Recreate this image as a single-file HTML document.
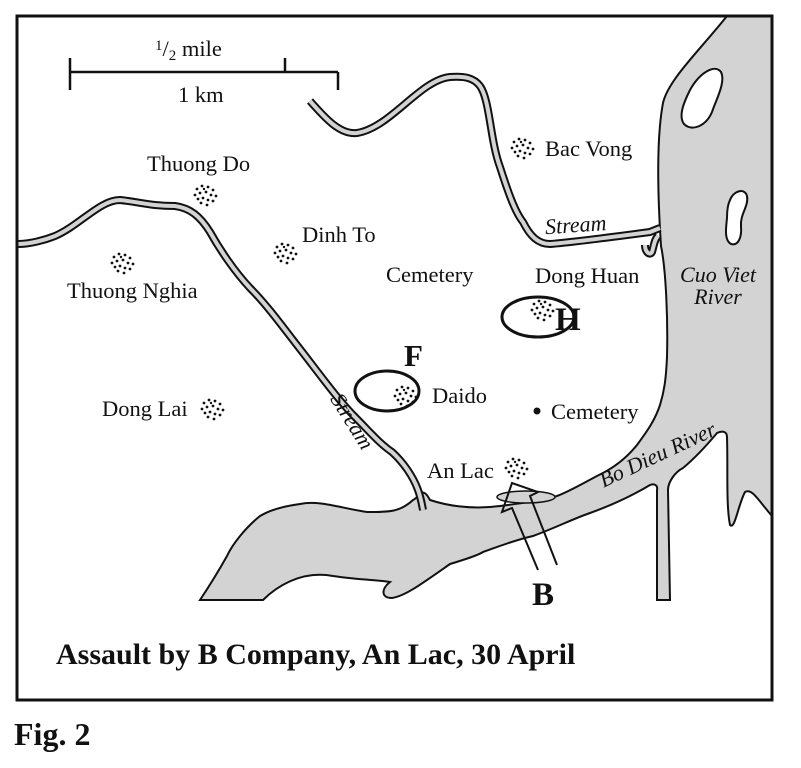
<!DOCTYPE html>
<html><head><meta charset="utf-8"><style>
html,body{margin:0;padding:0;background:#fff}
svg{display:block}
text{font-family:"Liberation Serif",serif;fill:#111}
.l{font-size:22.5px}
.i{font-size:22px;font-style:italic}
.b{font-weight:bold}
</style></head><body>
<svg width="801" height="768" viewBox="0 0 801 768">
<defs>
<g id="dots" fill="#111">
<circle cx="-8" cy="-6" r="1.4"/><circle cx="-3" cy="-9" r="1.4"/><circle cx="3" cy="-8" r="1.4"/><circle cx="8" cy="-5" r="1.4"/>
<circle cx="-10" cy="0" r="1.4"/><circle cx="-5" cy="-2" r="1.4"/><circle cx="1" cy="-3" r="1.4"/><circle cx="6" cy="0" r="1.4"/><circle cx="11" cy="1" r="1.4"/>
<circle cx="-7" cy="4" r="1.4"/><circle cx="-2" cy="3" r="1.4"/><circle cx="3" cy="5" r="1.4"/><circle cx="8" cy="6" r="1.4"/>
<circle cx="-4" cy="8" r="1.4"/><circle cx="2" cy="10" r="1.4"/><circle cx="-1" cy="-6" r="1.2"/>
</g>
</defs>
<path d="M727,16 C700,50 668,80 663,103 C656,140 658,200 661,246 C666,270 668,320 667,357 C666,380 664,392 660,405 C655,420 648,430 637,445 C625,460 610,470 597,476 C580,485 568,492 557,496 C535,502 515,504 500,506 C470,510 445,505 430,500 C422,485 420,497 413,500 C400,512 390,512 367,512 C340,508 320,500 300,504 C285,506 270,510 260,516 C245,528 232,545 227,556 C218,572 208,588 200,600 L263,600 C275,588 300,570 333,576 C360,580 380,580 390,582 C382,588 380,598 392,598 C405,596 420,585 450,564 C470,558 480,554 483,552 C500,546 515,540 533,536 C555,528 575,518 590,513 C615,504 635,494 650,485 C655,483 658,486 657,490 L657,600 L670,600 L668,490 C668,482 675,472 683,468 C695,458 707,445 717,433 C723,430 727,432 727,437 C728,470 726,505 730,525 C735,530 738,505 745,492 C752,488 758,500 772,516 L772,16 Z" fill="#d3d3d3" stroke="#111" stroke-width="2"/>
<path d="M690,90 C700,72 715,64 721,72 C726,82 716,100 712,112 C706,126 692,132 684,124 C678,116 684,102 690,90 Z" fill="#fff" stroke="#111" stroke-width="2"/>
<path d="M730,200 C734,190 745,188 747,196 C749,206 740,214 741,226 C742,238 738,246 731,244 C724,240 726,228 727,218 C727,210 728,204 730,200 Z" fill="#fff" stroke="#111" stroke-width="2"/>
<g fill="none" stroke-linecap="butt" stroke-linejoin="round">
<path id="s1" d="M310,101 C325,118 340,135 357,133 C390,128 420,80 450,77 C465,76 474,78 480,86 C490,100 490,140 500,167 C508,192 515,212 523,222 C530,236 538,244 550,244 C575,242 605,238 650,232 L660,228"/>
<path id="s2" d="M18,244 C30,244 45,240 55,236 C80,225 100,200 120,200 C140,202 150,206 175,206 C190,208 200,216 210,232 C220,250 235,272 250,288 C268,306 285,330 300,349 C318,372 338,400 356,418 C368,430 380,444 392,452 C403,462 413,476 418,490 C421,498 422,505 423,510"/>
<path id="s3" d="M645,245 C645,252 650,256 652,252 C654,246 654,240 658,236"/>
</g>
<use href="#s1" stroke="#111" stroke-width="8" fill="none"/>
<use href="#s1" stroke="#d3d3d3" stroke-width="4" fill="none"/>
<use href="#s2" stroke="#111" stroke-width="8" fill="none"/>
<use href="#s2" stroke="#d3d3d3" stroke-width="4" fill="none"/>
<use href="#s3" stroke="#111" stroke-width="8" fill="none"/>
<use href="#s3" stroke="#d3d3d3" stroke-width="4" fill="none"/>
<rect x="17" y="16" width="755" height="684" fill="none" stroke="#111" stroke-width="3"/>
<g stroke="#111" stroke-width="2.5"><line x1="70" y1="72" x2="338" y2="72"/><line x1="70" y1="58" x2="70" y2="90"/><line x1="285" y1="58" x2="285" y2="72"/><line x1="338" y1="72" x2="338" y2="90"/></g>
<text x="155" y="56" class="l"><tspan font-size="15" dy="-6">1</tspan><tspan dy="6">/</tspan><tspan font-size="15" dy="4">2</tspan><tspan dy="-4"> mile</tspan></text>
<text x="178" y="102" class="l">1 km</text>
<use href="#dots" x="205" y="195"/><use href="#dots" x="285" y="253"/><use href="#dots" x="122" y="263"/>
<use href="#dots" x="212" y="409"/><use href="#dots" x="522" y="148"/><use href="#dots" x="542" y="310"/>
<use href="#dots" x="405" y="396"/><use href="#dots" x="516" y="468"/>
<text x="147" y="171" class="l">Thuong Do</text>
<text x="302" y="242" class="l">Dinh To</text>
<text x="67" y="298" class="l">Thuong Nghia</text>
<text x="386" y="282" class="l">Cemetery</text>
<text x="545" y="156" class="l">Bac Vong</text>
<text x="545" y="232" class="i" transform="rotate(-4 578 226)">Stream</text>
<text x="535" y="283" class="l">Dong Huan</text>
<text x="718" y="282" class="i" text-anchor="middle">Cuo Viet</text>
<text x="718" y="304" class="i" text-anchor="middle">River</text>
<text x="432" y="403" class="l">Daido</text>
<text x="102" y="416" class="l">Dong Lai</text>
<circle cx="537" cy="411" r="3.5" fill="#111"/>
<text x="551" y="419" class="l">Cemetery</text>
<text x="427" y="478" class="l">An Lac</text>
<text x="306" y="418" class="i" transform="rotate(58 335 430)">Stream</text>
<text x="594" y="465" class="i" transform="rotate(-25 650 455)">Bo Dieu River</text>
<ellipse cx="538" cy="317" rx="36" ry="20" fill="none" stroke="#111" stroke-width="3"/>
<text x="555" y="330" class="b" font-size="33">H</text>
<ellipse cx="387" cy="391" rx="32" ry="20" fill="none" stroke="#111" stroke-width="3"/>
<text x="404" y="366" class="b" font-size="31">F</text>
<ellipse cx="526" cy="497" rx="29" ry="6" fill="#d3d3d3" stroke="#111" stroke-width="1.5"/>
<path d="M538,570 L512,508 L502,512 L512,483 L538,492 L530,496 L557,565" fill="none" stroke="#111" stroke-width="2"/>
<text x="532" y="605" class="b" font-size="33">B</text>
<text x="56" y="664" class="b" font-size="30">Assault by B Company, An Lac, 30 April</text>
<text x="14" y="745" class="b" font-size="32">Fig. 2</text>
</svg>
</body></html>
